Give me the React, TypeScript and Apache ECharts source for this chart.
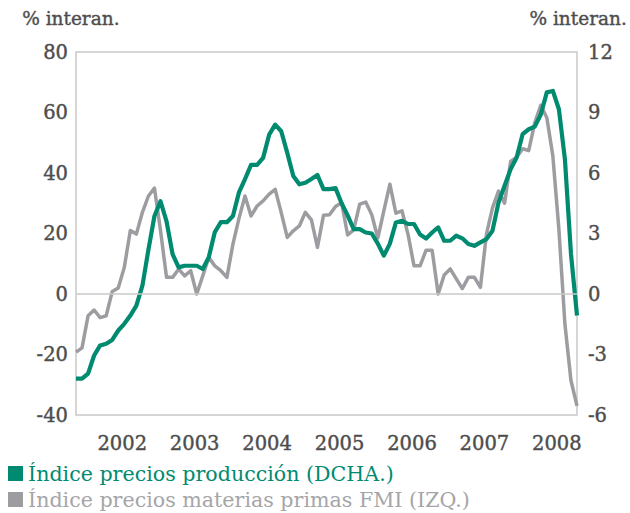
import React, { useEffect, useRef } from "react";
import * as echarts from "echarts";

const YEARS = ["2002", "2003", "2004", "2005", "2006", "2007", "2008"];
const MONTHS = ["01", "02", "03", "04", "05", "06", "07", "08", "09", "10", "11", "12"];
const CATEGORIES: string[] = YEARS.flatMap((y) => MONTHS.map((m) => `${y}-${m}`));

const LEFT_TICKS = { min: -40, max: 80, interval: 20 };
const RIGHT_TICKS = { min: -6, max: 12, interval: 3 };

const PPI_NAME = "Índice precios producción (DCHA.)";
const FMI_NAME = "Índice precios materias primas FMI (IZQ.)";

// % interanual, right axis
const PPI = [
  -4.2, -4.2, -3.95, -3.05, -2.55, -2.47, -2.28, -1.81, -1.48, -1.07, -0.58, 0.41,
  2.2, 3.87, 4.6, 3.6, 1.98, 1.32, 1.4, 1.4, 1.4, 1.24, 1.83, 3.07,
  3.56, 3.56, 3.87, 5.04, 5.7, 6.4, 6.4, 6.75, 7.9, 8.4, 8.07, 7.0,
  5.85, 5.44, 5.52, 5.7, 5.9, 5.2, 5.2, 5.25, 4.5, 3.9, 3.22, 3.22,
  3.05, 3.0, 2.5, 1.9, 2.5, 3.55, 3.63, 3.47, 3.47, 2.95, 2.75, 3.05,
  3.3, 2.64, 2.64, 2.89, 2.76, 2.48, 2.39, 2.56, 2.72, 3.14, 4.54, 5.37,
  6.19, 6.77, 7.93, 8.17, 8.3, 8.9, 10.0, 10.07, 9.16, 6.68, 2.0, -1.07,
];

// % interanual, left axis
const FMI = [
  -19.2, -17.8, -7.2, -5.3, -7.8, -7.2, 0.8, 2.0, 8.8, 21, 19.8, 27,
  32.4, 35, 21, 5.5, 5.5, 8.2, 6, 7.7, 0, 6, 12.1, 9.3,
  7.7, 5.5, 16.5, 25, 32.4, 25.8, 29.1, 30.8, 33, 34.6, 26.9, 18.7,
  20.9, 22.5, 27, 24.5, 15.4, 26, 26.2, 28.9, 30.2, 19.5, 21.2, 29.7,
  30.4, 26.2, 18.5, 27.5, 36.3, 26.7, 27.5, 19.8, 9.3, 9.3, 14.5, 14.5,
  0, 6.3, 8.3, 5, 1.8, 5.5, 5.5, 2.2, 19.8, 28.5, 34, 30,
  43.8, 45.2, 48, 47.4, 56.6, 62.4, 58.3, 45.6, 21.4, -10, -28.6, -37,
];

const GREEN = "#008a70";
const GREY = "#9d9da1";
const TEXT = "#4d4d4d";
const AXIS = "#c9c9c9";
const FONT = "DejaVu Serif";

export default function App() {
  const ref = useRef<HTMLDivElement>(null);

  useEffect(() => {
    if (!ref.current) return;
    const chart = echarts.init(ref.current, undefined, { renderer: "svg" });
    const legendBase = {
      orient: "horizontal",
      left: 8,
      padding: 0,
      itemWidth: 15,
      itemHeight: 15,
      icon: "rect",
    };
    const tickStyle = {
      color: TEXT,
      fontFamily: FONT,
      fontSize: 19.5,
      textBorderColor: TEXT,
      textBorderWidth: 0.4,
    };
    chart.setOption({
      animation: false,
      textStyle: { fontFamily: FONT },
      grid: {
        left: 76,
        right: 53,
        top: 52,
        bottom: 98,
        show: true,
        borderColor: AXIS,
        borderWidth: 1.5,
        containLabel: false,
      },
      graphic: [
        {
          type: "text",
          left: 22,
          top: 9,
          style: {
            text: "% interan.",
            font: `18.5px "${FONT}"`,
            fill: TEXT,
            stroke: TEXT,
            lineWidth: 0.4,
          },
        },
        {
          type: "text",
          right: 3,
          top: 9,
          style: {
            text: "% interan.",
            font: `18.5px "${FONT}"`,
            fill: TEXT,
            stroke: TEXT,
            lineWidth: 0.4,
          },
        },
      ],
      legend: [
        {
          ...legendBase,
          top: 463,
          textStyle: { fontFamily: FONT, fontSize: 20.6, color: GREEN },
          data: [PPI_NAME],
        },
        {
          ...legendBase,
          top: 489,
          textStyle: { fontFamily: FONT, fontSize: 20.6, color: "#a5a5a8" },
          data: [FMI_NAME],
        },
      ],
      xAxis: {
        type: "category",
        data: CATEGORIES,
        boundaryGap: false,
        axisLine: { show: false },
        axisTick: { show: false },
        splitLine: { show: false },
        axisLabel: {
          ...tickStyle,
          interval: (index: number) => index % 12 === 7,
          formatter: (v: string) => v.slice(0, 4),
          margin: 18,
          padding: [0, 0, 0, 8],
        },
      },
      yAxis: [
        {
          type: "value",
          ...LEFT_TICKS,
          position: "left",
          axisLine: { show: false },
          axisTick: { show: false },
          splitLine: { show: false },
          axisLabel: { ...tickStyle, margin: 8 },
        },
        {
          type: "value",
          ...RIGHT_TICKS,
          position: "right",
          axisLine: { show: false },
          axisTick: { show: false },
          splitLine: { show: false },
          axisLabel: { ...tickStyle, margin: 11 },
        },
      ],
      series: [
        {
          name: "zero",
          type: "line",
          yAxisIndex: 0,
          data: [],
          silent: true,
          markLine: {
            silent: true,
            symbol: ["none", "none"],
            label: { show: false },
            lineStyle: { color: AXIS, width: 1.5, type: "solid" },
            data: [{ yAxis: 0 }],
          },
        },
        {
          name: FMI_NAME,
          type: "line",
          yAxisIndex: 0,
          data: FMI,
          symbol: "none",
          color: GREY,
          lineStyle: { color: GREY, width: 3.5, join: "round" },
        },
        {
          name: PPI_NAME,
          type: "line",
          yAxisIndex: 1,
          data: PPI,
          symbol: "none",
          color: GREEN,
          lineStyle: { color: GREEN, width: 4.2, join: "round" },
        },
      ],
    });
    return () => chart.dispose();
  }, []);

  return <div ref={ref} style={{ width: 630, height: 513, position: "absolute", left: 0, top: 0 }} />;
}
